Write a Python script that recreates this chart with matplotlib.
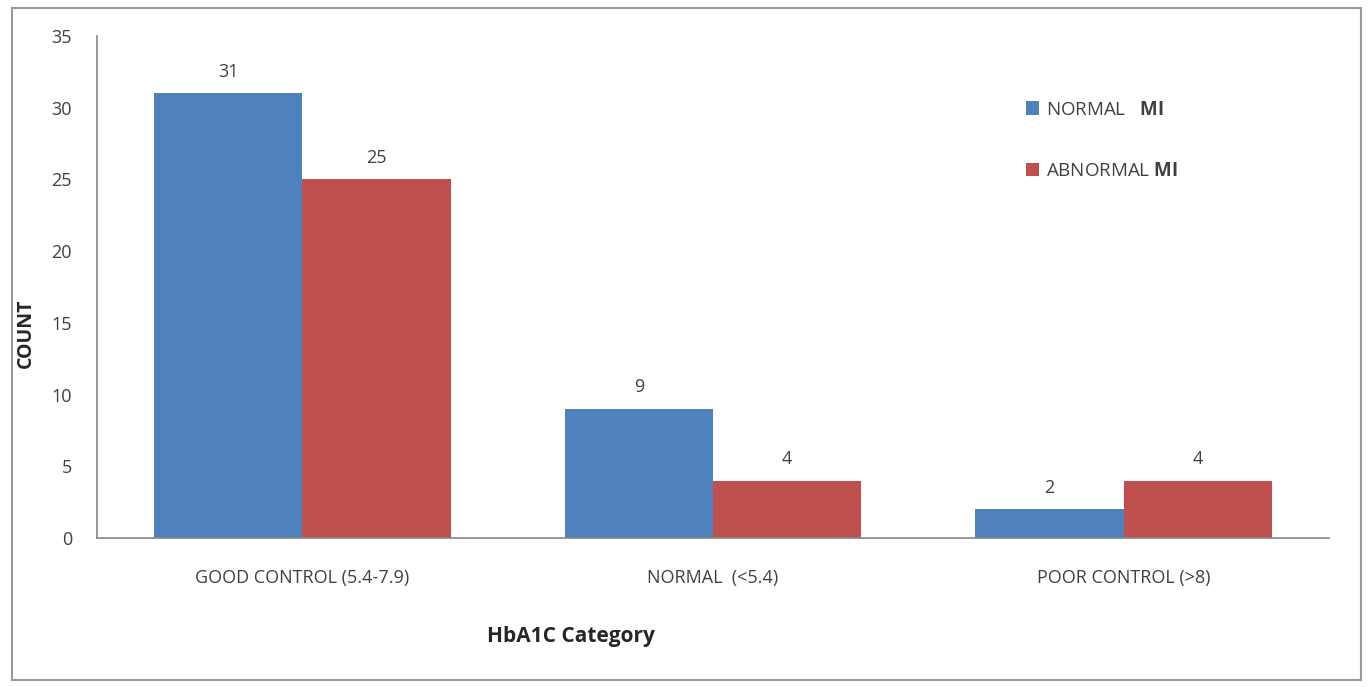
import matplotlib
matplotlib.use("Agg")
import matplotlib.pyplot as plt
from matplotlib.patches import Rectangle
import numpy as np

categories = ["GOOD CONTROL (5.4-7.9)", "NORMAL  (<5.4)", "POOR CONTROL (>8)"]
normal_mi = [31, 9, 2]
abnormal_mi = [25, 4, 4]
y_ticks = [0, 5, 10, 15, 20, 25, 30, 35]

plt.rcParams['font.family'] = ['Open Sans', 'DejaVu Sans']
plt.rcParams['mathtext.fontset'] = 'custom'
plt.rcParams['mathtext.bf'] = 'Open Sans:bold'

blue = '#4F81BD'
red = '#C0504D'
text_col = '#404040'

fig = plt.figure(figsize=(13.68, 6.87), dpi=100)
ax = fig.add_axes([0.0709, 0.2169, 0.9006, 0.7307])

x = np.arange(len(categories))
w = 0.361
b1 = ax.bar(x - w / 2, normal_mi, w, color=blue, label=r"NORMAL   $\mathbf{MI}$")
b2 = ax.bar(x + w / 2, abnormal_mi, w, color=red, label=r"ABNORMAL $\mathbf{MI}$")

for bars in (b1, b2):
    for rect in bars:
        h = rect.get_height()
        ax.annotate(f"{h:g}", (rect.get_x() + rect.get_width() / 2, h),
                    xytext=(0, 9), textcoords='offset points',
                    ha='center', va='bottom', fontsize=13, color=text_col)

ax.set_xlim(-0.5, 2.5)
ax.set_ylim(0, 35)
ax.set_yticks(y_ticks)
ax.set_xticks(x)
ax.set_xticklabels(categories, fontsize=13, color=text_col)
ax.tick_params(axis='y', labelsize=13, labelcolor=text_col, length=0, pad=18)
ax.tick_params(axis='x', length=0, pad=22)

for s in ('top', 'right'):
    ax.spines[s].set_visible(False)
for s in ('left', 'bottom'):
    ax.spines[s].set_color('#868686')
    ax.spines[s].set_linewidth(1.2)

ax.legend(loc='upper left', bbox_to_anchor=(0.74, 0.905), frameon=False,
          fontsize=13.5, handlelength=0.7, handleheight=0.7, handletextpad=0.4,
          labelspacing=2.3, labelcolor=text_col)

fig.text(0.417, 0.074, "HbA1C Category", fontsize=15, fontweight='bold',
         color='#262626', ha='center', va='center')
fig.text(0.019, 0.515, "COUNT", fontsize=14, fontweight='bold',
         color='#262626', rotation=90, ha='center', va='center')

fig.patches.append(Rectangle((0.009, 0.01), 0.986, 0.978, transform=fig.transFigure,
                             fill=False, edgecolor='#9a9a9a', linewidth=1.5))

fig.savefig("out.png", dpi=100)
